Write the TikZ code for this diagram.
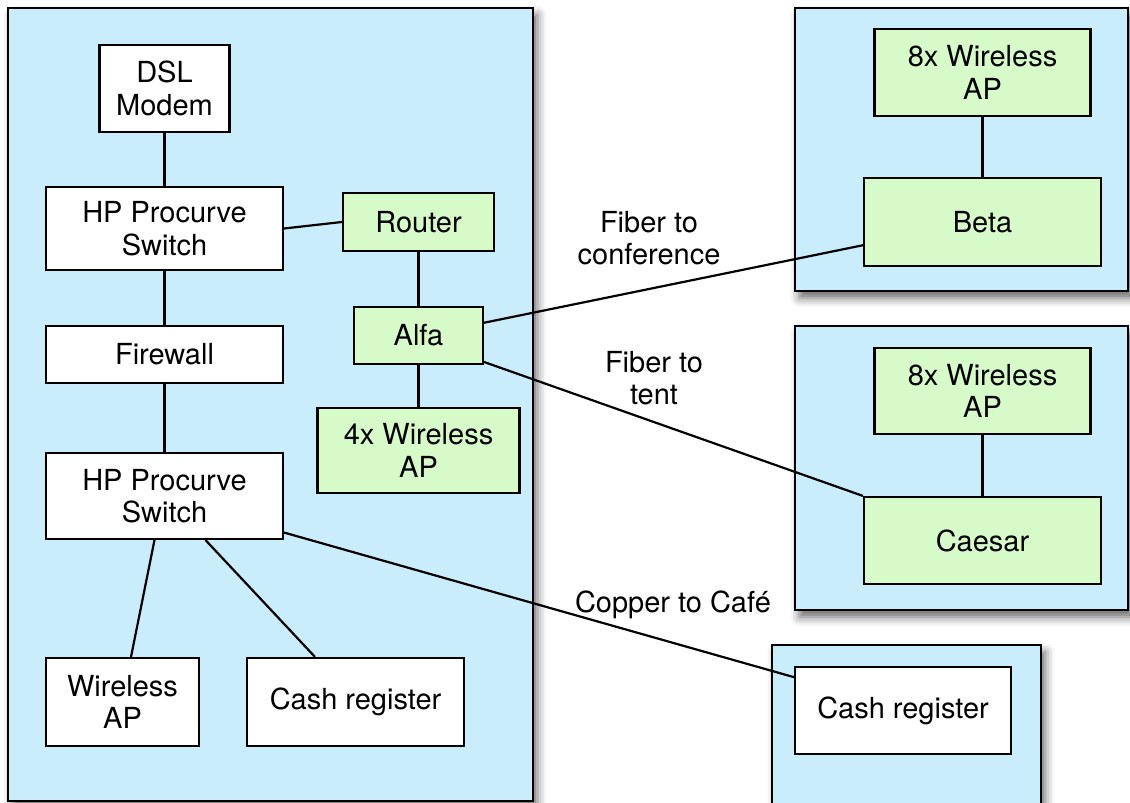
\documentclass[tikz,border=0pt]{standalone}
\usepackage{fontspec}
\setmainfont{TeX Gyre Heros}
\usetikzlibrary{calc,shadows.blur}
\definecolor{panelblue}{RGB}{202,237,252}
\definecolor{nodegreen}{RGB}{214,251,201}
\tikzset{
  panel/.style={draw, line width=1.3pt, fill=panelblue,
    blur shadow={shadow xshift=2.5pt, shadow yshift=-4pt, shadow blur radius=5pt, shadow opacity=60}},
  dev/.style 2 args={draw, line width=1.2pt, fill=white, align=center,
    minimum width=#1*0.02cm, minimum height=#2*0.02cm, inner sep=0pt,
    font=\fontsize{16.5}{18.5}\selectfont},
  gdev/.style 2 args={dev={#1}{#2}, fill=nodegreen},
  link/.style={line width=1.25pt},
  lbl/.style={align=center, font=\fontsize{16.5}{18.5}\selectfont}
}
\begin{document}
\begin{tikzpicture}[x=0.02cm, y=-0.02cm]
        \useasboundingbox (0,0) rectangle (1130,803);
        % panels
        \path[panel] (8,8) rectangle (533,801);
        \path[panel] (795,8) rectangle (1128,291);
        \path[panel] (795,326) rectangle (1128,610);
        \path[panel] (772,645) rectangle (1041,815);
        % main site
        \node[dev={130}{87}] (dsl) at (164.5, 88.5) {DSL\\Modem};
        \node[dev={237}{83}] (sw1) at (164.5, 228.5) {HP Procurve\\Switch};
        \node[dev={237}{57}] (fw) at (164.5, 354.5) {Firewall};
        \node[dev={237}{86}] (sw2) at (164.5, 496) {HP Procurve\\Switch};
        \node[dev={153}{88}] (wap) at (122.5, 702) {Wireless\\AP};
        \node[dev={217}{88}] (cash1) at (355.5, 702) {Cash register};
        \node[gdev={151}{58}] (router) at (418.5, 222) {Router};
        \node[gdev={129}{57}] (alfa) at (418.5, 335.5) {Alfa};
        \node[gdev={202}{85}] (wap4) at (418.5, 450.5) {4x Wireless\\AP};
        % conference and tent
        \node[gdev={216}{87}] (wap8a) at (982.5, 72.5) {8x Wireless\\AP};
        \node[gdev={237}{88}] (beta) at (982.5, 222) {Beta};
        \node[gdev={216}{86}] (wap8b) at (982.5, 391) {8x Wireless\\AP};
        \node[gdev={237}{87}] (caesar) at (982.5, 540.5) {Caesar};
        % cafe
        \node[dev={216}{87}] (cash2) at (903, 710.5) {Cash register};
        % labels
        \node[lbl] (lconf) at (649, 238) {Fiber to\\conference};
        \node[lbl] (ltent) at (654, 378) {Fiber to\\tent};
        \node[lbl] (lcafe) at (673, 605) {Copper to Café};
        % links
        \draw[link] (dsl) -- (sw1);
        \draw[link] (sw1) -- (fw);
        \draw[link] (fw) -- (sw2);
        \draw[link] (sw1.east) -- (router.west);
        \draw[link] (router) -- (alfa);
        \draw[link] (alfa) -- (wap4);
        \draw[link] (alfa.11) -- (beta.191);
        \draw[link] (alfa.338) -- (caesar.north west);
        \draw[link] (wap8a) -- (beta);
        \draw[link] (wap8b) -- (caesar);
        \draw[link] ($(sw2.south)+(-10,0)$) -- ($(wap.north)+(8.5,0)$);
        \draw[link] ($(sw2.south)+(41,0)$) -- ($(cash1.north)+(-40.5,0)$);
        \draw[link] (sw2.343.5) -- (cash2.163.7);
    \end{tikzpicture}
\end{document}
